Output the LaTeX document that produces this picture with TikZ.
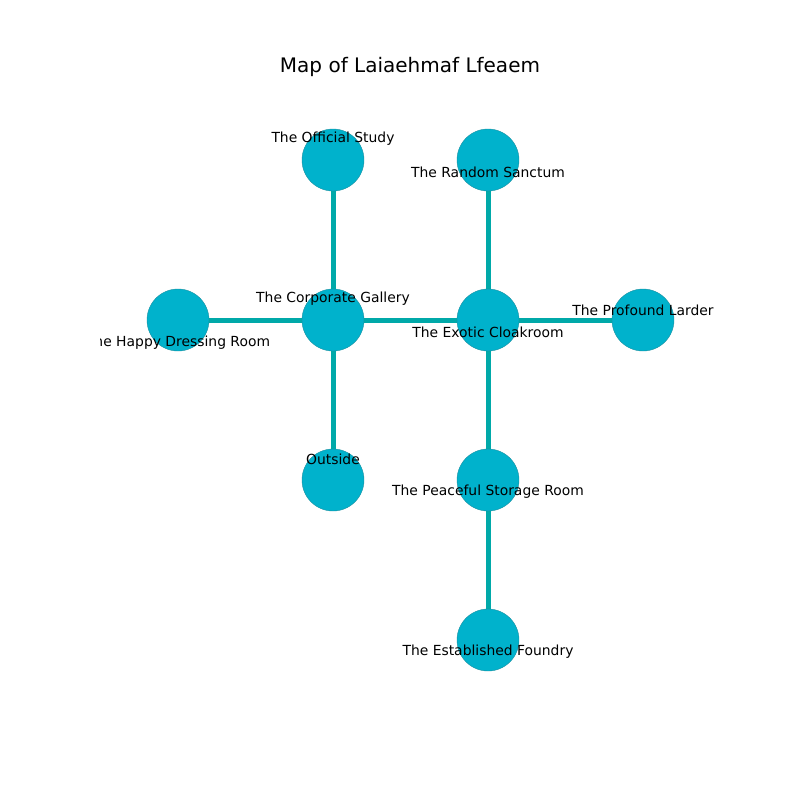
\documentclass[tikz,border=0pt]{standalone}
\usepackage{fontspec}
\setmainfont{DejaVu Sans}
\begin{document}
\begin{tikzpicture}[x=0.72pt,y=-0.72pt,
  room/.style={circle,fill=nodefill,draw=nodeedge,line width=0.3pt,minimum size=62*0.72pt,inner sep=0pt},
  lbl/.style={font=\fontsize{10}{12}\selectfont,inner sep=0pt,anchor=center},
  link/.style={draw=edgecol,line width=5*0.72pt}]
\definecolor{nodefill}{HTML}{00B2CC}
\definecolor{nodeedge}{HTML}{1A8FA0}
\definecolor{edgecol}{HTML}{00A9A9}
\useasboundingbox (0,0) rectangle (800,800);
\node[font=\fontsize{14.4}{17}\selectfont] (title) at (410,67) {Map of Laiaehmaf Lfeaem};
\coordinate (pOS) at (333,160);
\coordinate (pRS) at (488,160);
\coordinate (pCG) at (333,320);
\coordinate (pEC) at (488,320);
\coordinate (pHD) at (178,320);
\coordinate (pPL) at (643,320);
\coordinate (pOU) at (333,480);
\coordinate (pPS) at (488,480);
\coordinate (pEF) at (488,640);
\draw[link] (pOS) -- (pCG);
\draw[link] (pRS) -- (pEC);
\draw[link] (pHD) -- (pCG);
\draw[link] (pCG) -- (pEC);
\draw[link] (pEC) -- (pPL);
\draw[link] (pCG) -- (pOU);
\draw[link] (pEC) -- (pPS);
\draw[link] (pPS) -- (pEF);
\node[room] (OS) at (pOS) {};
\node[room] (RS) at (pRS) {};
\node[room] (CG) at (pCG) {};
\node[room] (EC) at (pEC) {};
\node[room] (HD) at (pHD) {};
\node[room] (PL) at (pPL) {};
\node[room] (OU) at (pOU) {};
\node[room] (PS) at (pPS) {};
\node[room] (EF) at (pEF) {};
\begin{scope}
\clip (100,96) rectangle (720,712);
\node[lbl] (lOS) at (333,139) {The Official Study};
\node[lbl] (lRS) at (488,172) {The Random Sanctum};
\node[lbl] (lCG) at (333,299) {The Corporate Gallery};
\node[lbl] (lEC) at (488,332) {The Exotic Cloakroom};
\node[lbl] (lHD) at (178,343) {The Happy Dressing Room};
\node[lbl] (lPL) at (643,310) {The Profound Larder};
\node[lbl] (lOU) at (333,459) {Outside};
\node[lbl] (lPS) at (488,492) {The Peaceful Storage Room};
\node[lbl] (lEF) at (488,652) {The Established Foundry};
\end{scope}
\end{tikzpicture}
\end{document}
